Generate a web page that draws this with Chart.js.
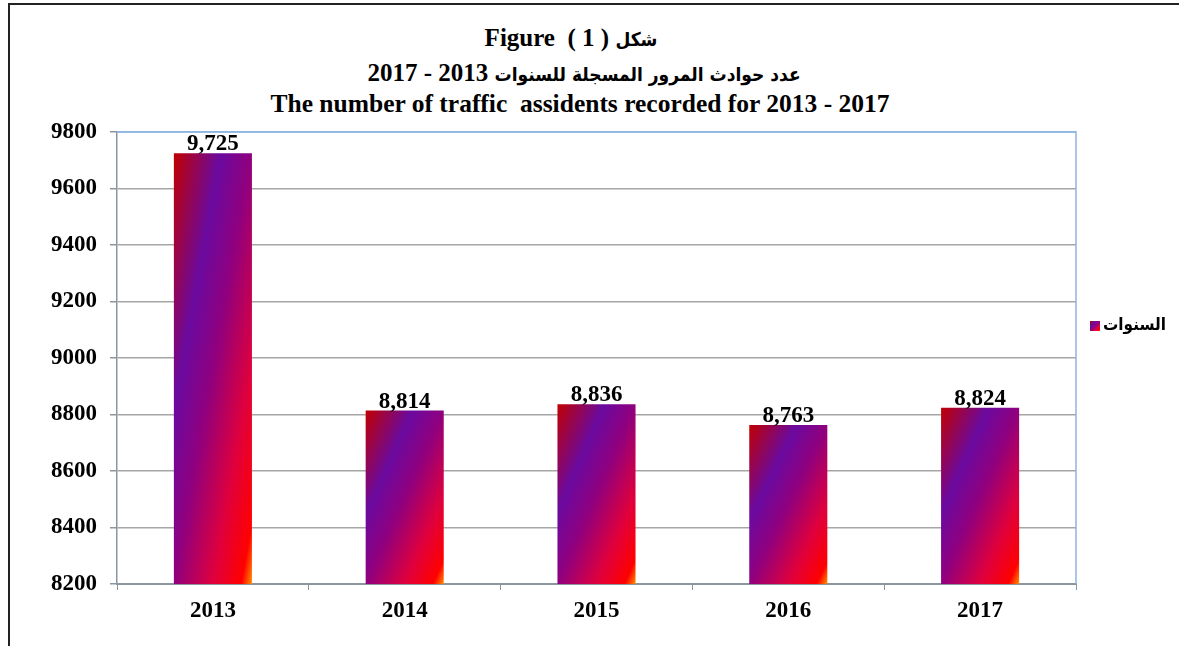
<!DOCTYPE html>
<html>
<head>
<meta charset="utf-8">
<script src="https://cdn.jsdelivr.net/npm/chart.js@4.4.0/dist/chart.umd.min.js"></script>
<style>
  html, body { margin: 0; padding: 0; background: #fff; overflow: hidden; }
  #wrap { position: relative; width: 1179px; height: 646px; }
  #frame { position: absolute; left: 8px; top: 3px; width: 1200px; height: 700px;
           border-top: 2px solid #222; border-left: 2px solid #222; }
  .ttl { position: absolute; left: 0; width: 1160px; text-align: center;
         font: bold 25px "Liberation Serif", serif; line-height: 25px;
         color: #000; white-space: pre; }
  .ar { font-family: "DejaVu Sans Condensed", "DejaVu Sans", sans-serif; font-size: 19px; }
  #chartBox { position: absolute; left: 0; top: 0; width: 1179px; height: 646px; }
</style>
</head>
<body>
<div id="wrap">
  <div id="frame"></div>
  <div class="ttl" style="top:25px; left:-9px" dir="ltr">Figure  ( 1 ) <span class="ar">شكل</span></div>
  <div class="ttl" style="top:60px; left:4px" dir="rtl"><span class="ar">عدد حوادث المرور المسجلة للسنوات</span> 2013 - 2017</div>
  <div class="ttl" style="top:91px; font-size:25.5px" dir="ltr">The number of traffic  assidents recorded for 2013 - 2017</div>
  <div id="chartBox"><canvas id="myChart"></canvas></div>
</div>
<script>
// data
var years = ["2013", "2014", "2015", "2016", "2017"]
var accidents = [9725, 8814, 8836, 8763, 8824]
var seriesName = "السنوات"
var yMin = 8200, yMax = 9800, yStep = 200

var labelFont = 'bold 23px "Liberation Serif", serif'

function fillGradient(ctx, L, T, w, h) {
  // gradient stretched over the box, like Excel "scale with shape"
  var k = 2 * w * h / (w * w + h * h)
  var g = ctx.createLinearGradient(L, T, L + h * k, T + w * k)
  g.addColorStop(0, "#c00000")
  g.addColorStop(0.3, "#6a0aa0")
  g.addColorStop(0.5, "#90007e")
  g.addColorStop(0.75, "#e0003c")
  g.addColorStop(0.93, "#ff0000")
  g.addColorStop(1, "#ff9000")
  return g
}

const barGradient = {
  id: "barGradient",
  beforeDatasetsDraw(chart) {
    var ctx = chart.ctx
    var bottom = chart.chartArea.bottom
    chart.getDatasetMeta(0).data.forEach(function (bar) {
      var p = bar.getProps(["x", "y", "base", "width"], true)
      // base sits at value 0, far below the axis; bars get clipped at the bottom
      var base = Math.min(p.base, bottom)
      var g = fillGradient(ctx, p.x - p.width / 2, p.y, p.width, base - p.y)
      // options can be shared between bars, so give each one its own copy
      bar.options = Object.assign({}, bar.options, { backgroundColor: g })
    })
  },
  afterDatasetsDraw(chart) {
    var ctx = chart.ctx
    var area = chart.chartArea
    // plot area border (top / right) in light blue
    ctx.save()
    ctx.strokeStyle = "#8db4e2"
    ctx.lineWidth = 1.5
    ctx.beginPath()
    ctx.moveTo(area.left, area.top)
    ctx.lineTo(area.right, area.top)
    ctx.lineTo(area.right, area.bottom)
    ctx.stroke()
    // value labels
    ctx.font = labelFont
    ctx.fillStyle = "#000"
    ctx.textAlign = "center"
    ctx.textBaseline = "alphabetic"
    chart.getDatasetMeta(0).data.forEach(function (bar, i) {
      ctx.fillText(accidents[i].toLocaleString("en-US"), bar.x, bar.y - 3)
    })
    ctx.restore()
  },
  afterDraw(chart) {
    // legend on the right
    var ctx = chart.ctx
    var area = chart.chartArea
    var x = area.right + 14
    var y = area.top + 189
    ctx.save()
    ctx.fillStyle = fillGradient(ctx, x, y, 10, 10)
    ctx.fillRect(x, y, 10, 10)
    ctx.font = 'bold 17px "DejaVu Sans Condensed", "DejaVu Sans", sans-serif'
    ctx.fillStyle = "#000"
    ctx.textAlign = "left"
    ctx.textBaseline = "middle"
    ctx.fillText(seriesName, x + 13, y + 5)
    ctx.restore()
  }
}

var ctx = document.getElementById("myChart")
var myChart = new Chart(ctx, {
  type: "bar",
  data: {
    labels: years,
    datasets: [{
      label: seriesName,
      data: accidents,
      backgroundColor: "#8a0080",
      borderWidth: 0,
      categoryPercentage: 1,
      barPercentage: 0.407
    }]
  },
  options: {
    responsive: true,
    maintainAspectRatio: false,
    animation: false,
    layout: { padding: { top: 132, right: 103, bottom: 0, left: 0 } },
    plugins: {
      legend: { display: false },
      tooltip: { enabled: false },
      title: { display: false }
    },
    scales: {
      x: {
        grid: { drawOnChartArea: false, drawTicks: true, tickLength: 6, color: "#8c96a0", lineWidth: 1 },
        border: { color: "#8c96a0", width: 2 },
        ticks: { color: "#000", font: { family: "Liberation Serif", size: 23, weight: "bold" }, padding: 7 },
        afterFit: function (s) { s.height = 62 }
      },
      y: {
        min: yMin,
        max: yMax,
        grid: {
          color: function (c) { return c.tick && c.tick.value === yMax ? "#8db4e2" : "#a6a6a6" },
          lineWidth: 1.5,
          tickLength: 7,
          tickColor: "#8c96a0"
        },
        border: { color: "#8c96a0", width: 1.5 },
        ticks: {
          stepSize: yStep,
          color: "#000",
          padding: 13,
          font: { family: "Liberation Serif", size: 23, weight: "bold" },
          callback: function (v) { return String(v) }
        },
        afterFit: function (s) { s.width = 117 }
      }
    }
  },
  plugins: [barGradient]
})
</script>
</body>
</html>
